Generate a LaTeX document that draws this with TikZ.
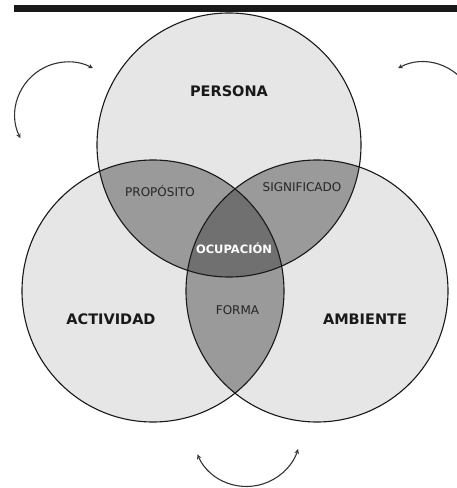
\documentclass[tikz,border=0pt]{standalone}
\usepackage{fontspec}
\setmainfont{DejaVu Sans}
\usepackage{tikz}
\usetikzlibrary{arrows}
\definecolor{lightGray}{HTML}{E6E6E6}
\definecolor{midGray}{HTML}{9A9A9A}
\definecolor{darkGray}{HTML}{707070}
\tikzstyle{ring} = [draw=black!90, line width=1.1pt]
\tikzstyle{bigLabel} = [font=\bfseries\fontsize{14.5}{16}\selectfont, text=black!90]
\tikzstyle{smallLabel} = [font=\fontsize{12}{14}\selectfont, text=black!85]
\tikzstyle{coreLabel} = [font=\bfseries\fontsize{11.5}{13}\selectfont, text=white]
\tikzstyle{arrow} = [line width=1.1pt,<->,>=stealth, draw=black!80]
\newcommand{\circPersona}{(229,343) circle (132pt)}
\newcommand{\circActividad}{(153,197) circle (131pt)}
\newcommand{\circAmbiente}{(317,197) circle (131pt)}

\begin{document}
\begin{tikzpicture}[x=1pt, y=1pt]
    \useasboundingbox (0,0) rectangle (457,488);
    \begin{scope}
        \clip (0,0) rectangle (457,488);
        % circles
        \fill [lightGray] \circPersona;
        \fill [lightGray] \circActividad;
        \fill [lightGray] \circAmbiente;
        \begin{scope}
            \clip \circPersona;
            \fill [midGray] \circActividad;
            \fill [midGray] \circAmbiente;
        \end{scope}
        \begin{scope}
            \clip \circActividad;
            \fill [midGray] \circAmbiente;
        \end{scope}
        \begin{scope}
            \clip \circPersona;
            \clip \circActividad;
            \fill [darkGray] \circAmbiente;
        \end{scope}
        \draw [ring] \circPersona;
        \draw [ring] \circActividad;
        \draw [ring] \circAmbiente;
        \fill [black!90] (14,475.5) rectangle (457,483);
        % arrows
        \coordinate (tl) at (20.4,349.8);
        \coordinate (tr) at (398.1,419.8);
        \coordinate (bt) at (197.4,33.6);
        \draw [arrow] (tl) arc [start angle=206, end angle=62, radius=53pt];
        \draw [arrow] (tr) arc [start angle=118, end angle=-26, radius=53pt];
        \draw [arrow] (bt) arc [start angle=204, end angle=342, radius=54pt];
    \end{scope}
    % labels
    \node (persona) [bigLabel] at (229,397) {PERSONA};
    \node (actividad) [bigLabel] at (111,169) {ACTIVIDAD};
    \node (ambiente) [bigLabel] at (365,169) {AMBIENTE};
    \node (proposito) [smallLabel] at (160,297) {PROPÓSITO};
    \node (significado) [smallLabel] at (302,301) {SIGNIFICADO};
    \node (forma) [smallLabel] at (237.5,178) {FORMA};
    \node (ocupacion) [coreLabel] at (234,240) {OCUPACIÓN};
\end{tikzpicture}
\end{document}
